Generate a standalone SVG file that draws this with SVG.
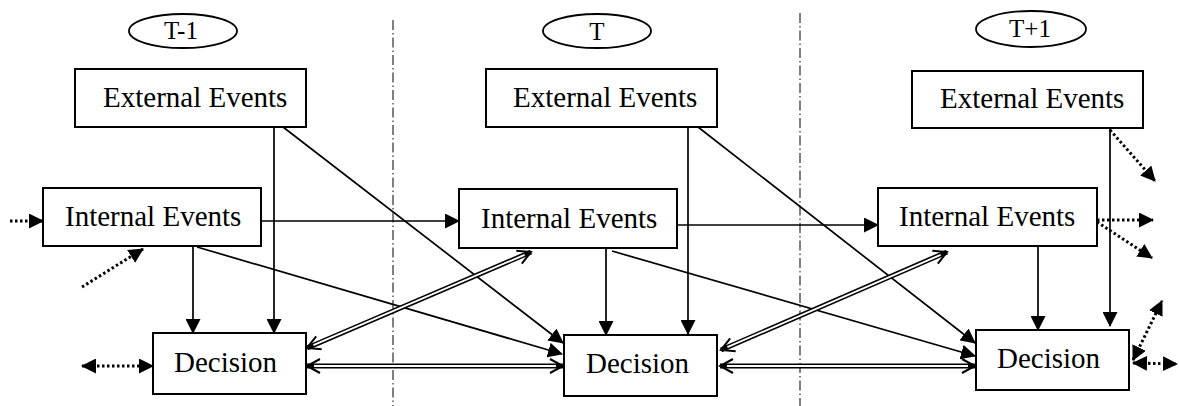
<svg xmlns="http://www.w3.org/2000/svg" width="1179" height="406" viewBox="0 0 1179 406">
<style>
.box{fill:#fff;stroke:#000;stroke-width:2}
.lbl{font-family:"Liberation Serif","Times New Roman",serif;font-size:29px;fill:#000}
.tl{font-family:"Liberation Serif","Times New Roman",serif;font-size:25px;fill:#000;text-anchor:middle}
.ell{fill:#fff;stroke:#000;stroke-width:1.8}
.sep{stroke:#000;stroke-width:1;stroke-dasharray:10 3 1.5 3;fill:none}
.sol{stroke:#000;stroke-width:1.7;fill:none}
.dot{stroke:#000;stroke-width:3;stroke-dasharray:2.5 2.5;fill:none}
.dblo{stroke:#000;stroke-width:5;fill:none}
.dbli{stroke:#fff;stroke-width:1.8;fill:none}
</style>
<defs>
<marker id="tri" markerUnits="userSpaceOnUse" viewBox="0 0 15 15" markerWidth="15" markerHeight="15" refX="14" refY="7.5" orient="auto-start-reverse">
<path d="M0,0 L15,7.5 L0,15 z" fill="#000"/>
</marker>
<marker id="chev" markerUnits="userSpaceOnUse" viewBox="-15 -9 17 18" markerWidth="17" markerHeight="18" refX="0" refY="0" orient="auto-start-reverse">
<path d="M-13,-7 L0,0 L-13,7" fill="none" stroke="#000" stroke-width="2"/>
</marker>
</defs>

<g id="separators">
<line class="sep" x1="393" y1="20" x2="393" y2="406"/>
<line class="sep" x1="800" y1="13" x2="800" y2="406"/>
</g>

<g id="label-t-1"><ellipse class="ell" cx="183" cy="31" rx="54" ry="17"/><text class="tl" x="181" y="39">T-1</text></g>
<g id="label-t"><ellipse class="ell" cx="597" cy="31" rx="54" ry="17"/><text class="tl" x="597" y="40">T</text></g>
<g id="label-t+1"><ellipse class="ell" cx="1031" cy="29" rx="55" ry="18"/><text class="tl" x="1030" y="37">T+1</text></g>

<g id="connectors">
<line class="sol" x1="261" y1="221" x2="459" y2="221" marker-end="url(#tri)"/>
<line class="sol" x1="677" y1="225" x2="878" y2="225" marker-end="url(#tri)"/>
<line class="sol" x1="274" y1="127" x2="274" y2="333" marker-end="url(#tri)"/>
<line class="sol" x1="283" y1="127" x2="563" y2="343" marker-end="url(#tri)"/>
<line class="sol" x1="193" y1="246" x2="193" y2="333" marker-end="url(#tri)"/>
<line class="sol" x1="197" y1="247" x2="562" y2="354" marker-end="url(#tri)"/>
<line class="sol" x1="688" y1="127" x2="688" y2="334" marker-end="url(#tri)"/>
<line class="sol" x1="698" y1="127" x2="975" y2="343" marker-end="url(#tri)"/>
<line class="sol" x1="606" y1="248" x2="606" y2="335" marker-end="url(#tri)"/>
<line class="sol" x1="612" y1="251" x2="975" y2="356" marker-end="url(#tri)"/>
<line class="sol" x1="1110" y1="128" x2="1110" y2="326" marker-end="url(#tri)"/>
<line class="sol" x1="1038" y1="246" x2="1038" y2="330" marker-end="url(#tri)"/>

<line class="dblo" x1="307" y1="348" x2="531" y2="252" marker-start="url(#chev)" marker-end="url(#chev)"/>
<line class="dbli" x1="313.4" y1="345.2" x2="524.6" y2="254.8"/>
<line class="dblo" x1="307" y1="366" x2="563" y2="366" marker-start="url(#chev)" marker-end="url(#chev)"/>
<line class="dbli" x1="314" y1="366" x2="556" y2="366"/>
<line class="dblo" x1="721" y1="350" x2="947" y2="252" marker-start="url(#chev)" marker-end="url(#chev)"/>
<line class="dbli" x1="727.4" y1="347.2" x2="940.6" y2="254.8"/>
<line class="dblo" x1="720" y1="366" x2="975" y2="366" marker-start="url(#chev)" marker-end="url(#chev)"/>
<line class="dbli" x1="727" y1="366" x2="968" y2="366"/>

<line class="dot" x1="10" y1="221" x2="43" y2="221" marker-end="url(#tri)"/>
<line class="dot" x1="82" y1="287" x2="143" y2="249" marker-end="url(#tri)"/>
<line class="dot" x1="82" y1="366" x2="153" y2="366" marker-start="url(#tri)" marker-end="url(#tri)"/>
<line class="dot" x1="1110" y1="130" x2="1155" y2="181" marker-end="url(#tri)"/>
<line class="dot" x1="1097" y1="220" x2="1153" y2="220" marker-end="url(#tri)"/>
<line class="dot" x1="1097" y1="222" x2="1152" y2="258" marker-end="url(#tri)"/>
<line class="dot" x1="1133" y1="360" x2="1162" y2="301" marker-start="url(#tri)" marker-end="url(#tri)"/>
<line class="dot" x1="1133" y1="363" x2="1177" y2="364" marker-start="url(#tri)" marker-end="url(#tri)"/>
</g>

<g id="ext1"><rect class="box" x="75" y="69" width="231" height="58"/><text class="lbl" x="103" y="107">External Events</text></g>
<g id="ext2"><rect class="box" x="486" y="69" width="231" height="58"/><text class="lbl" x="513" y="107">External Events</text></g>
<g id="ext3"><rect class="box" x="912" y="71" width="231" height="57"/><text class="lbl" x="940" y="108">External Events</text></g>
<g id="int1"><rect class="box" x="43" y="188" width="218" height="58"/><text class="lbl" x="65" y="226">Internal Events</text></g>
<g id="int2"><rect class="box" x="459" y="189" width="218" height="59"/><text class="lbl" x="481" y="228">Internal Events</text></g>
<g id="int3"><rect class="box" x="878" y="188" width="219" height="58"/><text class="lbl" x="899" y="226">Internal Events</text></g>
<g id="dec1"><rect class="box" x="153" y="333" width="153" height="61"/><text class="lbl" x="174" y="372">Decision</text></g>
<g id="dec2"><rect class="box" x="564" y="335" width="153" height="61"/><text class="lbl" x="586" y="373">Decision</text></g>
<g id="dec3"><rect class="box" x="976" y="330" width="153" height="60"/><text class="lbl" x="997" y="368">Decision</text></g>
</svg>
